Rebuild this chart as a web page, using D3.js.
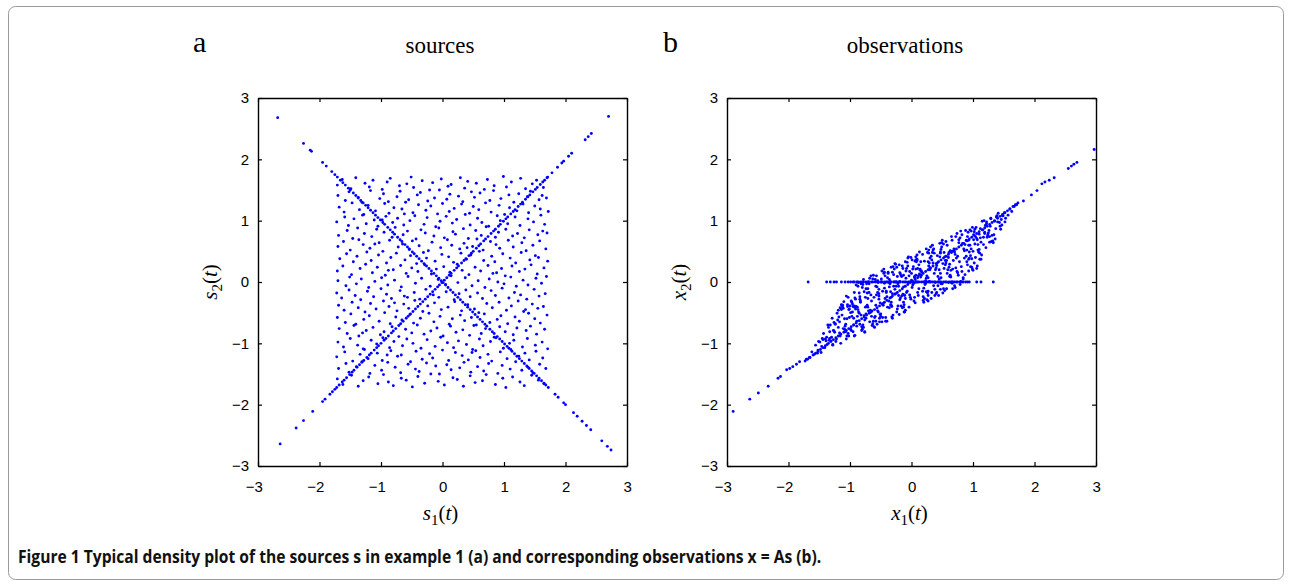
<!DOCTYPE html>
<html><head><meta charset="utf-8">
<script src="https://cdn.jsdelivr.net/npm/d3@7"></script>
<style>body{margin:0;background:#fff}</style></head>
<body><svg id="c" width="1291" height="587"></svg>
<script>
// ---------- data (values in hundredths of a unit) ----------
const tickValues = [-3,-2,-1,0,1,2,3];
const panelLetters = ["a","b"];
const panelTitles = ["sources","observations"];
const captionParts = ["Figure 1 Typical density plot of the sources ","s"," in example 1 (","a",") and corresponding observations ","x"," = ","As"," (","b",")."];

// panel a: uniform cloud of sources s1, s2
const srcX = [-171,-163,-149,-141,-126,-119,-113,-98,-90,-85,-70,-58,-51,-47,-33,-21,-16,-2,9,14,29,36,41,55,68,73,84,99,104,112,127,135,146,153,164,171,
-170,-158,-152,-137,-131,-117,-102,-96,-88,-74,-69,-55,-41,-36,-24,-13,-5,7,12,26,33,47,52,61,77,83,95,108,116,124,138,143,157,162,169,
-168,-160,-147,-135,-128,-121,-109,-94,-87,-79,-66,-60,-48,-39,-27,-19,-8,0,11,19,31,44,50,59,70,79,92,101,109,121,131,140,150,159,172,-62,
-172,-159,-153,-144,-130,-124,-111,-105,-92,-81,-73,-63,-53,-45,-30,-25,-11,-4,6,16,23,37,45,57,64,75,89,94,106,118,126,139,148,160,166,-98,
-169,-155,-146,-138,-127,-115,-107,-95,-82,-77,-64,-57,-43,-35,-28,-14,-6,3,17,21,34,42,54,63,71,86,91,103,114,122,133,141,155,163,170,
-170,-161,-150,-136,-129,-118,-103,-97,-86,-72,-65,-54,-49,-38,-23,-17,-3,8,15,28,35,49,56,66,78,87,93,107,115,129,136,147,158,168,-110,40,
-167,-156,-145,-139,-123,-116,-104,-91,-84,-75,-61,-52,-42,-31,-26,-12,-1,10,18,30,39,46,60,67,80,85,98,110,119,128,142,151,156,171,
-171,-162,-148,-134,-125,-114,-106,-93,-80,-68,-59,-50,-40,-29,-18,-10,2,12,24,32,43,53,62,74,82,96,102,113,125,134,144,154,165,-88,88,
-170,-157,-151,-140,-132,-120,-110,-99,-89,-78,-67,-56,-44,-34,-20,-7,5,14,25,37,48,58,69,76,90,100,111,120,131,139,152,161,169,
-172,-164,-152,-142,-133,-122,-112,-100,-91,-83,-69,-62,-46,-37,-27,-15,-6,6,19,27,38,45,57,65,79,86,97,108,117,127,137,149,157,167,-57,
-169,-160,-147,-137,-126,-117,-108,-96,-87,-74,-63,-55,-45,-32,-24,-13,-2,9,20,31,41,52,59,72,81,92,104,112,123,132,146,155,164,-78,135,
-171,-158,-149,-141,-128,-119,-103,-94,-85,-76,-66,-53,-47,-36,-22,-14,-4,11,16,29,36,47,55,68,77,89,95,106,118,125,140,150,159,170,
-168,-155,-144,-136,-124,-113,-101,-95,-82,-71,-60,-50,-41,-30,-19,-9,1,13,22,33,44,51,63,70,84,93,102,115,121,136,143,153,166,-130,
-170,-161,-150,-138,-129,-116,-107,-97,-86,-79,-65,-58,-48,-35,-25,-12,-3,8,18,26,39,49,60,66,78,87,99,109,116,130,138,151,162,171,
-172,-159,-146,-134,-127,-121,-106,-98,-84,-73,-67,-52,-43,-33,-21,-16,0,10,21,32,42,54,61,74,80,94,105,111,124,134,141,152,163,-90,48,
-169,-157,-152,-140,-131,-118,-110,-99,-89,-77,-68,-56,-44,-38,-26,-11,-5,7,14,28,35,46,57,67,75,90,97,110,119,129,139,147,158,168,
-171,-162,-148,-137,-129,-120,-105,-96,-88,-80,-67,-59,-49,-40,-29,-19,-7,3,17,24,34,45,53,65,71,86,98,103,114,126,133,145,156,165];
const srcY = [158,167,152,170,161,155,166,151,163,169,157,160,171,154,165,150,162,168,156,159,170,153,164,161,151,167,157,172,155,163,169,152,160,166,154,171,
141,133,147,138,130,149,136,144,131,139,148,134,142,146,132,137,150,135,143,140,131,147,138,145,133,149,136,142,130,144,139,148,134,141,137,
122,114,129,118,110,125,116,128,112,121,119,130,113,126,117,124,111,128,115,120,127,112,123,118,129,114,125,110,121,116,127,113,124,119,115,111,
98,106,92,103,109,95,101,91,107,97,104,93,100,108,94,105,90,99,107,96,102,110,93,104,97,91,108,100,95,106,92,103,98,109,94,101,
76,84,71,88,79,74,86,81,73,89,77,83,70,85,80,75,88,72,82,78,87,71,84,76,90,73,81,86,75,79,72,85,77,83,80,
58,66,52,69,61,55,64,50,68,57,62,53,67,59,51,65,56,69,60,54,63,58,70,52,66,61,55,68,57,64,51,60,67,54,62,56,
38,46,33,42,49,35,44,31,40,47,36,43,30,48,39,34,45,41,32,47,37,44,50,35,42,33,46,39,31,48,36,43,40,34,
18,26,12,22,29,15,24,11,20,27,14,23,17,28,13,21,25,16,29,19,12,24,18,27,14,22,10,26,17,21,28,13,23,19,15,
2,-6,8,-3,5,-9,1,7,-5,3,-8,9,-2,6,-7,4,-4,10,-1,7,-6,2,-9,5,0,-3,8,-7,3,-5,6,-2,9,
-18,-26,-13,-22,-29,-15,-24,-11,-20,-27,-14,-23,-17,-28,-12,-21,-25,-16,-29,-19,-13,-24,-18,-27,-14,-22,-10,-26,-17,-21,-28,-12,-23,-19,-25,
-38,-46,-33,-42,-49,-35,-44,-31,-40,-47,-36,-43,-30,-48,-39,-34,-45,-41,-32,-47,-37,-44,-50,-35,-42,-33,-46,-39,-31,-48,-36,-43,-40,-34,-45,
-58,-66,-52,-69,-61,-55,-64,-50,-68,-57,-62,-53,-67,-59,-51,-65,-56,-69,-60,-54,-63,-58,-70,-52,-66,-61,-55,-68,-57,-64,-51,-60,-67,-54,
-76,-84,-71,-88,-79,-74,-86,-81,-73,-89,-77,-83,-70,-85,-80,-75,-88,-72,-82,-78,-87,-71,-84,-76,-90,-73,-81,-86,-75,-79,-72,-85,-77,-83,
-98,-106,-92,-103,-109,-95,-101,-91,-107,-97,-104,-93,-100,-108,-94,-105,-90,-99,-107,-96,-102,-110,-93,-104,-97,-91,-108,-100,-95,-106,-92,-103,-98,-109,
-122,-114,-129,-118,-110,-125,-116,-128,-112,-121,-119,-130,-113,-126,-117,-124,-111,-128,-115,-120,-127,-112,-123,-118,-129,-114,-125,-110,-121,-116,-127,-113,-124,-119,-115,
-141,-133,-147,-138,-130,-149,-136,-144,-131,-139,-148,-134,-142,-146,-132,-137,-150,-135,-143,-140,-131,-147,-138,-145,-133,-149,-136,-142,-130,-144,-139,-148,-134,-141,
-158,-167,-152,-170,-161,-155,-166,-151,-163,-169,-157,-160,-171,-154,-165,-150,-162,-168,-156,-159,-170,-153,-164,-161,-151,-167,-157,-172,-155,-163,-169,-152,-160,-166];

// panel a: points on the rising diagonal
const srcUpX = [-264,-238,-226,-211,-195,-191,-183,-179,-175,-172,-168,-163,-160,-156,-151,-147,-144,-139,-135,-131,-128,-123,-119,-116,-111,-107,-104,-100,-95,-92,-88,-83,-80,-76,-71,-68,-64,-59,-56,-52,-48,-44,-40,-36,-32,-28,-24,-20,-16,-12,-8,-5,-1,3,7,11,14,19,23,26,31,35,38,43,47,50,55,59,62,67,70,74,79,83,86,91,94,99,103,106,111,115,118,123,127,130,135,139,142,147,151,154,159,163,166,170,178,187,194,197,205,210,232,237,242,270];
const srcUpY = [-264,-238,-226,-211,-195,-191,-183,-179,-175,-172,-168,-163,-160,-156,-151,-147,-144,-139,-135,-131,-128,-123,-119,-116,-111,-107,-104,-100,-95,-92,-88,-83,-80,-76,-71,-68,-64,-59,-56,-52,-48,-44,-40,-36,-32,-28,-24,-20,-16,-12,-8,-5,-1,3,7,11,14,19,23,26,31,35,38,43,47,50,55,59,62,67,70,74,79,83,86,91,94,99,103,106,111,115,118,123,127,130,135,139,142,147,151,154,159,163,166,170,178,187,194,197,205,210,232,237,242,270];
// panel a: points on the falling diagonal
const srcDownX = [-268,-226,-215,-213,-195,-189,-180,-175,-171,-166,-162,-158,-153,-150,-145,-141,-137,-133,-129,-125,-121,-117,-113,-109,-105,-101,-97,-94,-89,-85,-81,-78,-73,-69,-66,-61,-57,-54,-49,-46,-42,-38,-34,-30,-26,-22,-18,-14,-10,-6,-2,1,5,9,13,17,21,25,29,33,37,41,45,49,53,57,61,65,69,72,77,81,84,89,93,97,101,105,108,113,117,121,125,129,133,137,141,145,149,153,157,161,165,168,172,183,188,197,200,213,219,227,234,241,259,268,274];
const srcDownY = [268,226,215,213,195,189,180,175,171,166,162,158,153,150,145,141,137,133,129,125,121,117,113,109,105,101,97,94,89,85,81,78,73,69,66,61,57,54,49,46,42,38,34,30,26,22,18,14,10,6,2,-1,-5,-9,-13,-17,-21,-25,-29,-33,-37,-41,-45,-49,-53,-57,-61,-65,-69,-72,-77,-81,-84,-89,-93,-97,-101,-105,-108,-113,-117,-121,-125,-129,-133,-137,-141,-145,-149,-153,-157,-161,-165,-168,-172,-183,-188,-197,-200,-213,-219,-227,-234,-241,-259,-268,-274];

// panel b: cloud of observations x1, x2
const obsX = [-92,-75,-84,-79,-88,-74,-90,-81,-77,-86,-93,-76,-83,-89,-78,-85,-91,-80,-74,-87,-82,-76,-90,-79,-84,-88,-73,-81,-92,-77,-86,-75,-83,-89,-80,-78,-91,-85,-74,-87,-82,-93,-76,-84,
-60,-71,-55,-66,-58,-69,-63,-54,-72,-57,-65,-61,-68,-53,-70,-59,-64,-56,-67,-62,-73,-55,-60,-69,-58,-65,-71,-54,-63,-67,-57,-61,-72,-56,-66,-59,-70,-53,-64,-68,-62,-58,-71,-55,
-41,-50,-35,-46,-38,-52,-44,-33,-48,-40,-36,-51,-43,-47,-34,-49,-39,-45,-37,-53,-42,-35,-48,-44,-50,-38,-41,-46,-33,-52,-36,-43,-49,-40,-47,-34,-45,-51,-37,-42,-39,-53,-44,-36,
-22,-31,-15,-27,-19,-33,-24,-14,-29,-20,-17,-32,-25,-13,-28,-21,-16,-30,-23,-18,-26,-14,-31,-22,-19,-27,-33,-16,-24,-29,-13,-20,-32,-25,-17,-28,-21,-15,-30,-23,-18,-26,-31,-19,
-3,-12,5,-8,1,-10,3,-5,-13,6,-1,-9,4,-6,-11,2,-4,7,-7,0,-12,5,-2,-10,3,-8,6,-13,1,-5,-3,7,-11,-6,2,-9,4,-1,-12,0,-7,5,-4,-10,
16,8,24,12,27,19,9,22,14,26,11,18,7,25,15,21,10,23,13,20,17,27,8,24,12,19,9,22,16,26,11,14,25,7,20,13,23,18,10,21,15,27,9,24,
36,28,45,32,41,29,47,34,39,30,44,37,27,42,33,46,31,40,35,43,28,38,46,32,41,29,36,44,30,39,47,34,27,42,37,31,45,33,40,28,43,35,38,30,
58,49,65,53,61,48,67,55,63,50,59,66,52,47,62,56,64,51,60,54,67,49,57,63,48,65,53,60,50,58,66,55,47,62,52,64,57,51,61,54,59,48,66,56,
80,69,91,74,86,71,93,77,84,68,89,75,82,72,90,79,87,70,85,76,92,73,81,88,67,83,78,91,71,86,74,80,93,69,84,77,89,72,82,75,87,70,90,79,
-171,-166,-162,-158,-156,
-153,-149,-146,-143,-140,-137,-151,-147,-144,-139,-136,-152,-145,-141,-138,-135,
-133,-128,-124,-119,-116,-131,-126,-122,-117,-134,-129,-125,-120,-115,-132,-127,-123,-118,-130,-121,-116,-133,-126,-119,-128,-124,-117,
-113,-108,-104,-99,-95,-111,-106,-101,-97,-93,-114,-109,-103,-98,-94,-112,-107,-102,-96,-110,-105,-100,-95,-113,-108,-103,-99,-94,-111,-106,-101,-97,-114,-109,-104,-98,-93,-112,-107,-102,-96,-105,
96,101,107,112,94,99,104,110,114,97,102,108,113,95,100,105,111,93,98,103,109,115,96,101,106,112,94,99,104,110,97,102,107,113,95,100,106,111,93,98,103,108,
117,122,127,132,119,124,129,134,116,121,126,131,118,123,128,133,120,125,130,135,117,122,127,119,124,129,132,
137,141,145,149,153,139,143,147,151,136,140,144,148,152,138,146,
157,160,163,167,171];
const obsY = [-87,-25,-69,-4,-41,-52,-5,-73,-16,-49,-17,-82,-33,-64,4,-51,-28,-77,-11,-45,-3,-62,-40,-70,-28,-56,-3,-79,-26,-55,-1,-41,-31,-72,-9,-74,-44,-18,-59,-7,-54,-39,-81,-24,
-74,-27,-47,10,-38,-17,-68,-1,-38,10,-56,-25,-65,-12,-47,4,-71,-8,-50,11,-40,-17,-58,-3,-64,-31,-11,-49,5,-46,-21,-73,-18,-69,-21,-56,0,-23,-47,6,-64,-7,-41,2,
-15,-56,-3,-35,14,-65,-2,-33,18,-24,-8,-53,10,-58,-16,0,-41,14,-31,-19,-64,1,-65,-10,-52,16,-17,-38,24,-59,4,-27,5,-64,-15,-37,21,-34,-1,-58,7,-28,16,-42,
-39,16,-42,-12,15,-38,24,-20,-7,-53,10,-57,0,-33,21,-7,-23,25,-44,13,-19,22,-59,-3,-29,30,-25,9,-49,12,-8,28,-40,-7,-39,0,-22,26,-54,9,-26,29,-19,1,
17,-49,9,-17,36,-27,25,-1,-41,34,-28,6,-2,39,-22,21,-41,36,-15,14,-37,7,-25,33,-1,22,-34,11,-9,41,-21,11,-49,26,-5,18,-31,40,-21,3,32,-25,10,-46,
18,0,54,-11,33,-30,37,-1,21,-18,10,-15,41,10,33,-27,22,2,49,-10,16,-31,33,6,28,-24,44,-4,11,48,-22,19,-29,21,-33,13,-2,45,-17,34,8,-22,35,-16,
-6,52,20,42,-17,31,14,60,-1,23,-22,47,7,43,-17,63,0,23,52,-6,26,-22,41,-27,27,1,54,0,39,20,-12,48,-15,31,14,57,5,36,-19,47,9,31,-12,20,
14,64,-1,48,24,53,-11,35,11,68,20,50,-11,49,29,66,8,30,-1,41,21,57,-11,51,7,74,22,40,-3,60,-2,28,47,9,62,19,35,-18,48,-14,41,-3,68,31,
1,54,28,79,39,45,18,69,7,35,68,15,77,23,52,-4,61,-6,54,11,81,39,25,84,0,63,33,74,-9,51,17,83,37,51,5,64,42,74,17,42,12,49,33,72,
-126,-123,-114,-118,-103,
-116,-98,-105,-84,-93,-102,-97,-115,-94,-96,-70,-111,-92,-107,-90,-74,
-92,-103,-69,-74,-42,-96,-66,-93,-65,-95,-59,-82,-62,-100,-70,-79,-97,-57,-90,-51,-88,-81,-80,-46,-102,-68,-83,
-38,-78,-37,-77,-40,-76,-23,-58,-33,-88,-45,-60,-84,-31,-59,-38,-81,-45,-49,-32,-88,-39,-81,-54,-72,-25,-50,-70,-43,-93,-44,-56,-37,-77,-40,-79,-41,-41,-69,-88,-36,-60,
25,77,26,72,39,89,40,78,44,54,82,52,37,60,50,89,47,68,24,62,49,99,43,69,22,87,49,21,74,53,83,31,69,65,85,19,71,37,60,38,86,61,
73,95,74,66,81,75,103,77,85,56,84,76,100,73,91,64,92,80,66,99,61,98,65,79,77,104,67,
87,112,86,108,104,108,97,93,113,70,98,91,108,98,106,102,
109,119,115,123,126];

// panel b: points on the image of the rising diagonal
const obsDiagX = [-290,-263,-249,-233,-217,-213,-203,-198,-193,-187,-182,-173,-169,-165,-160,-156,-152,-148,-144,-140,-135,-131,-127,-123,-119,-115,-110,-106,-102,-98,-94,-90,-85,-81,-77,-73,-69,-65,-60,-56,-52,-48,-44,-40,-35,-31,-27,-23,-19,-15,-10,-6,-2,2,6,10,15,19,23,27,31,35,40,44,48,52,56,60,65,69,73,77,81,85,90,94,98,102,106,110,115,119,123,127,131,135,140,144,148,152,156,160,165,169,173,182,195,204,212,217,224,232,255,260,264,269,297];
const obsDiagY = [-211,-191,-181,-170,-157,-154,-143,-141,-138,-134,-130,-129,-126,-123,-119,-116,-113,-110,-107,-104,-100,-97,-94,-91,-88,-85,-82,-79,-76,-73,-70,-67,-63,-60,-57,-54,-51,-48,-45,-42,-39,-36,-33,-30,-26,-23,-20,-17,-14,-11,-7,-4,-1,1,4,7,11,14,17,20,23,26,30,33,36,39,42,45,48,51,54,57,60,63,67,70,73,76,79,82,85,88,91,94,97,100,104,107,110,113,116,119,123,126,129,132,142,149,160,163,166,170,185,189,192,195,216];
// panel b: points on the image of the falling diagonal (x2 = 0)
const obsFlatX = [-168,-138,-132,-126,-122,-114,-108,-103,-99,-95,-93,-89,-87,-83,-80,-78,-74,-71,-69,-65,-63,-59,-56,-54,-50,-48,-44,-41,-39,-35,-33,-29,-26,-24,-20,-18,-14,-11,-9,-5,-3,1,3,7,10,12,16,19,21,25,28,30,34,37,39,43,46,48,52,55,57,61,64,66,70,73,75,79,82,84,88,91,94,106,113,133];
const obsFlatY = [0,0,0,0,0,0,0,0,0,0,0,0,0,0,0,0,0,0,0,0,0,0,0,0,0,0,0,0,0,0,0,0,0,0,0,0,0,0,0,0,0,0,0,0,0,0,0,0,0,0,0,0,0,0,0,0,0,0,0,0,0,0,0,0,0,0,0,0,0,0,0,0,0,0,0,0];

// ---------- drawing ----------
const svg = d3.select("#c");
const BLUE = "#0000ff";
const TOP = 98, BOTTOM = 466;

svg.append("rect").attr("x",8.5).attr("y",6.5).attr("width",1275).attr("height",573)
  .attr("rx",7).attr("fill","none").attr("stroke","#9a9a9a").attr("stroke-width",1);

const panels = [
  {left:258, right:627, letterX:193, titleX:440, xLabel:"s", yLabelX:217,
   sets:[[srcX,srcY],[srcUpX,srcUpY],[srcDownX,srcDownY]]},
  {left:727, right:1096, letterX:663, titleX:905, xLabel:"x", yLabelX:686,
   sets:[[obsX,obsY],[obsDiagX,obsDiagY],[obsFlatX,obsFlatY]]}
];

const fmt = d => d < 0 ? "\u2212" + Math.abs(d) : String(d);

panels.forEach((p, i) => {
  const x = d3.scaleLinear().domain([-3,3]).range([p.left, p.right]);
  const y = d3.scaleLinear().domain([-3,3]).range([BOTTOM, TOP]);
  const g = svg.append("g");

  // points
  const pts = [];
  p.sets.forEach(([xs, ys]) => d3.zip(xs, ys).forEach(d => pts.push(d)));
  g.append("g").selectAll("circle").data(pts).join("circle")
    .attr("cx", d => x(d[0]/100))
    .attr("cy", d => y(d[1]/100))
    .attr("r", 1.45).attr("fill", BLUE);

  const styleAxis = sel => {
    sel.attr("font-family","'Liberation Sans', Arial, sans-serif").attr("font-size",15);
    sel.select(".domain").attr("stroke","#000").attr("stroke-width",1.4);
    sel.selectAll(".tick line").attr("stroke","#000").attr("stroke-width",1.2);
    sel.selectAll(".tick text").attr("fill","#000");
  };
  const bottom = g.append("g").attr("transform",`translate(0,${BOTTOM})`)
    .call(d3.axisBottom(x).tickValues(tickValues).tickFormat(fmt).tickSizeInner(-4).tickSizeOuter(0).tickPadding(15));
  styleAxis(bottom);
  bottom.selectAll(".tick text").attr("text-anchor","end").attr("x",4.3);
  const top = g.append("g").attr("transform",`translate(0,${TOP})`)
    .call(d3.axisTop(x).tickValues(tickValues).tickFormat("").tickSizeInner(-4).tickSizeOuter(0));
  styleAxis(top);
  const left = g.append("g").attr("transform",`translate(${p.left},0)`)
    .call(d3.axisLeft(y).tickValues(tickValues).tickFormat(fmt).tickSizeInner(-4).tickSizeOuter(0).tickPadding(9));
  styleAxis(left);
  const right = g.append("g").attr("transform",`translate(${p.right},0)`)
    .call(d3.axisRight(y).tickValues(tickValues).tickFormat("").tickSizeInner(-4).tickSizeOuter(0));
  styleAxis(right);

  const serif = "'Liberation Serif', 'Times New Roman', serif";
  // panel letter and title
  g.append("text").attr("x",p.letterX).attr("y",52).attr("font-family",serif)
    .attr("font-size",30).text(panelLetters[i]);
  g.append("text").attr("x",p.titleX).attr("y",53).attr("text-anchor","middle")
    .attr("font-family",serif).attr("font-size",23).text(panelTitles[i]);

  // axis labels
  const label = (t, sub) => {
    t.attr("font-family",serif).attr("font-size",21).attr("text-anchor","middle");
    t.append("tspan").attr("font-style","italic").text(p.xLabel);
    t.append("tspan").attr("font-size",15).attr("dy",5).text(sub);
    t.append("tspan").attr("dy",-5).text("(");
    t.append("tspan").attr("font-style","italic").text("t");
    t.append("tspan").text(")");
  };
  const cx = (p.left + p.right) / 2;
  label(g.append("text").attr("x",cx - 2).attr("y",520), "1");
  label(g.append("text").attr("transform",`translate(${p.yLabelX},${(TOP+BOTTOM)/2}) rotate(-90)`), "2");
});

// caption
const cap = svg.append("text").attr("x",18).attr("y",563)
  .attr("font-family","'Open Sans', 'Noto Sans', sans-serif").attr("font-size",17)
  .attr("font-weight",700).attr("fill","#111");
captionParts.forEach(s => cap.append("tspan").text(s));
const w = cap.node().getComputedTextLength();
const target = 804;
cap.attr("transform",`translate(18,0) scale(${target/w},1) translate(-18,0)`);
</script>
</body></html>
